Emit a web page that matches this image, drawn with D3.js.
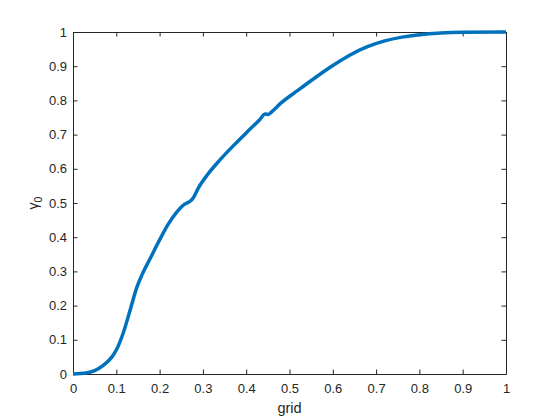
<!DOCTYPE html>
<head>
    <meta charset="utf-8">
    <script src='https://d3js.org/d3.v7.min.js'></script>
    <title>gamma0 vs grid</title>
    <style>
        body { margin: 0; background: #ffffff; }
        text { font-family: "Liberation Sans", Arial, sans-serif; fill: #262626; }
    </style>
</head>
<body>
<svg id="chart" width="560" height="420"></svg>
<script>

// values
var gridX = [0, 0.03, 0.05, 0.07, 0.09, 0.10, 0.116, 0.132, 0.147, 0.16, 0.18, 0.20,
             0.22, 0.24, 0.255, 0.268, 0.276, 0.29, 0.31, 0.34, 0.37, 0.40, 0.43, 0.444,
             0.451, 0.46, 0.48, 0.52, 0.56, 0.60, 0.64, 0.68, 0.72, 0.76, 0.80, 0.85,
             0.90, 1.0];
var gamma0 = [0, 0.003, 0.010, 0.025, 0.050, 0.070, 0.12, 0.187, 0.252, 0.292, 0.342, 0.392,
              0.438, 0.474, 0.494, 0.503, 0.512, 0.545, 0.582, 0.627, 0.667, 0.705, 0.742, 0.760,
              0.759, 0.768, 0.792, 0.830, 0.867, 0.902, 0.933, 0.957, 0.974, 0.985, 0.992, 0.997,
              0.999, 1.0];
var xTicks = [0, 0.1, 0.2, 0.3, 0.4, 0.5, 0.6, 0.7, 0.8, 0.9, 1];
var yTicks = [0, 0.1, 0.2, 0.3, 0.4, 0.5, 0.6, 0.7, 0.8, 0.9, 1];

var axLeft = 73, axRight = 506, axTop = 32, axBottom = 374;
var x = d3.scaleLinear().domain([0, 1]).range([axLeft, axRight]);
var y = d3.scaleLinear().domain([0, 1]).range([axBottom, axTop]);
var fmt = function(d) { return d3.format("~g")(d); };

var svg = d3.select("#chart");
var tickLen = 4.5;

// axes (box with inward ticks like MATLAB)
function styleAxis(g) {
    g.selectAll(".domain").attr("stroke", "#262626");
    g.selectAll(".tick line").attr("stroke", "#262626");
    g.selectAll(".tick text").attr("fill", "#262626")
        .style("font-family", '"Liberation Sans", Arial, sans-serif').style("font-size", "13px");
}

svg.append("g").attr("transform", "translate(0," + axBottom + ")")
    .call(d3.axisBottom(x).tickValues(xTicks).tickFormat(fmt).tickSizeInner(-tickLen).tickSizeOuter(0).tickPadding(10))
    .call(styleAxis);
svg.append("g").attr("transform", "translate(0," + axTop + ")")
    .call(d3.axisTop(x).tickValues(xTicks).tickFormat("").tickSizeInner(-tickLen).tickSizeOuter(0))
    .call(styleAxis);
svg.append("g").attr("transform", "translate(" + axLeft + ",0)")
    .call(d3.axisLeft(y).tickValues(yTicks).tickFormat(fmt).tickSizeInner(-tickLen).tickSizeOuter(0).tickPadding(6))
    .call(styleAxis);
svg.append("g").attr("transform", "translate(" + axRight + ",0)")
    .call(d3.axisRight(y).tickValues(yTicks).tickFormat("").tickSizeInner(-tickLen).tickSizeOuter(0))
    .call(styleAxis);

// the curve
var pts = gridX.map(function(d, i) { return [d, gamma0[i]]; });
svg.append("path")
    .datum(pts)
    .attr("fill", "none")
    .attr("stroke", "#0072BD")
    .attr("stroke-width", 3.5)
    .attr("stroke-linejoin", "round")
    .attr("d", d3.line().x(function(d) { return x(d[0]); }).y(function(d) { return y(d[1]); })
        .curve(d3.curveMonotoneX));

// labels
svg.append("text")
    .attr("x", (axLeft + axRight) / 2)
    .attr("y", 413)
    .attr("text-anchor", "middle")
    .style("font-size", "14.5px")
    .text("grid");

var ylab = svg.append("text")
    .attr("transform", "translate(38," + ((axTop + axBottom) / 2) + ") rotate(-90)")
    .attr("text-anchor", "middle")
    .style("font-size", "14px");
ylab.append("tspan").text("γ");
ylab.append("tspan").attr("dy", 4).style("font-size", "10.5px").text("0");

</script>
</body>
</html>
